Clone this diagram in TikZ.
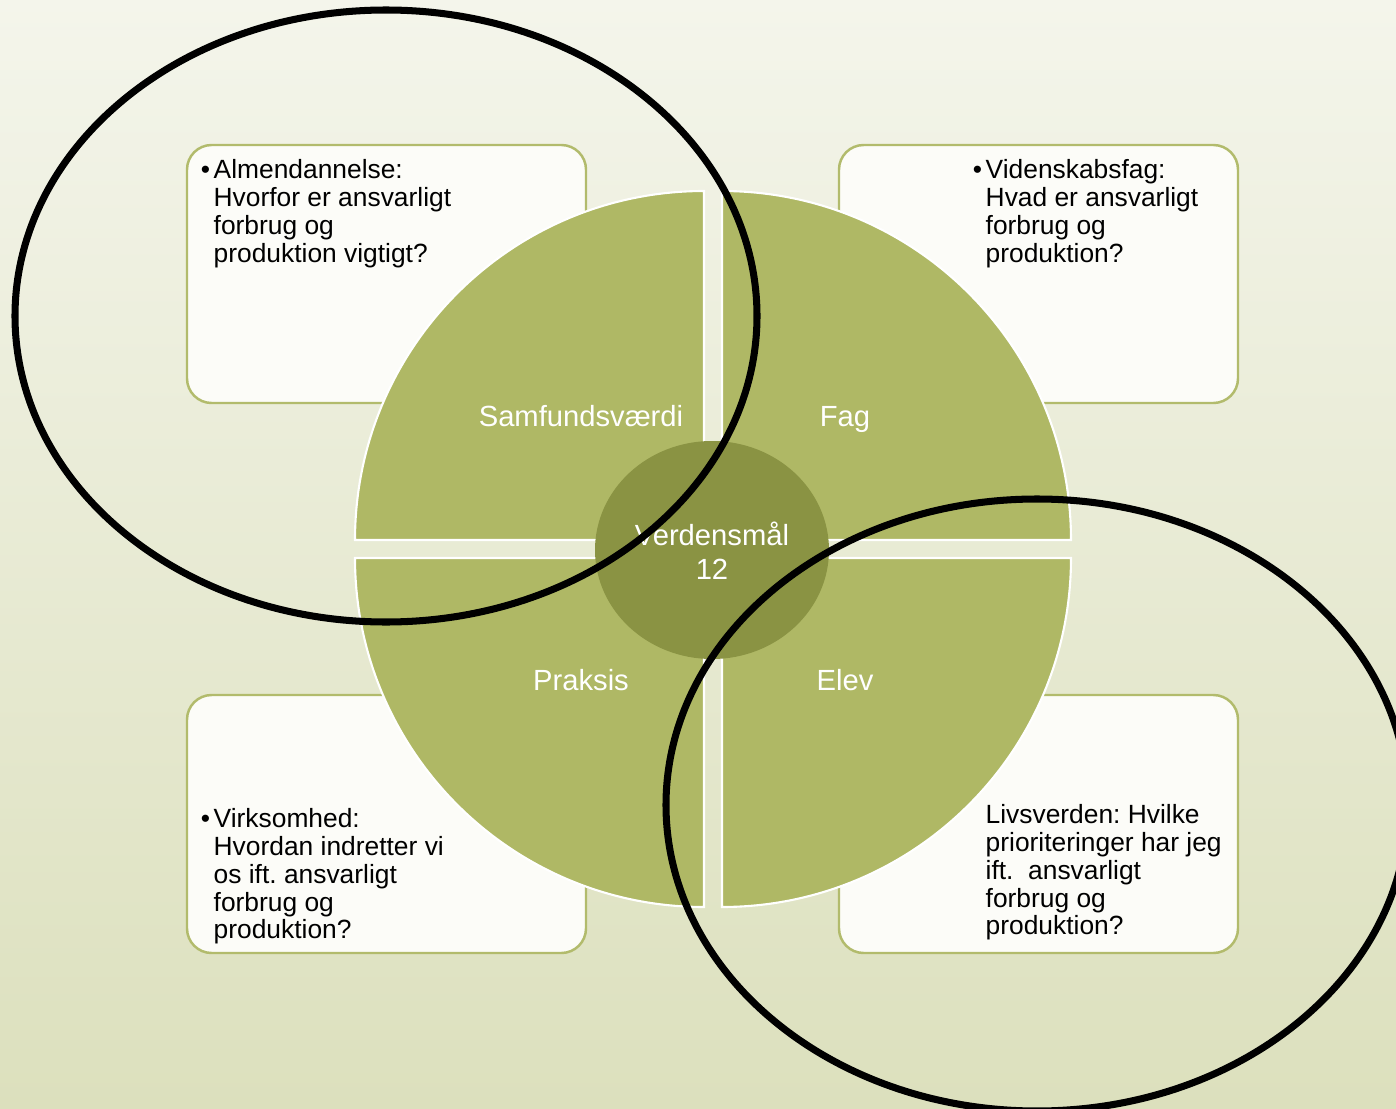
\documentclass[tikz,border=0pt]{standalone}
\usepackage{fontspec}
\setmainfont{Liberation Sans}
\frenchspacing

\definecolor{bgtop}{RGB}{244,245,235}
\definecolor{bgbottom}{RGB}{220,224,189}
\definecolor{cardline}{RGB}{178,187,108}
\definecolor{cardfill}{RGB}{252,252,248}
\definecolor{quarterfill}{RGB}{175,184,101}
\definecolor{hubfill}{RGB}{138,147,67}

\begin{document}
\begin{tikzpicture}[x=0.01cm, y=-0.01cm,
        card/.style={draw=cardline, fill=cardfill, line width=0.7pt, rounded corners=7pt},
        quarter/.style={fill=quarterfill, draw=white, line width=0.6pt},
        sector/.style={text=white, inner sep=0pt, align=center, font=\fontsize{8.3}{9.7}\selectfont},
        cardtext/.style={anchor=north west, align=left, inner sep=0pt, font=\fontsize{7.5}{7.9}\selectfont},
        ring/.style={draw=black, line width=2pt}]

        % Background
        \useasboundingbox (0,0) rectangle (1396,1109);
        \shade[top color=bgtop, bottom color=bgbottom] (0,0) rectangle (1396,1109);

        % Define the corners of the four quarters
        \coordinate (samf) at (704,540);
        \coordinate (fag) at (722,540);
        \coordinate (praks) at (704,558);
        \coordinate (elev) at (722,558);

        % Draw the four cards behind the circle
        \draw[card] (187,145) rectangle (586,403);
        \draw[card] (839,145) rectangle (1238,403);
        \draw[card] (187,695) rectangle (586,953);
        \draw[card] (839,695) rectangle (1238,953);

        \node[cardtext] (almen) at (213,159) {\llap{\textbullet\kern1pt}Almendannelse:\\Hvorfor er ansvarligt\\forbrug og\\produktion vigtigt?};
        \node[cardtext] (viden) at (985,159) {\llap{\textbullet\kern1pt}Videnskabsfag:\\Hvad er ansvarligt\\forbrug og\\produktion?};
        \node[cardtext] (virk) at (213,808) {\llap{\textbullet\kern1pt}Virksomhed:\\Hvordan indretter vi\\os ift. ansvarligt\\forbrug og\\produktion?};
        \node[cardtext] (livs) at (985,804) {Livsverden: Hvilke\\prioriteringer har jeg\\ift.\ \ ansvarligt\\forbrug og\\produktion?};

        % Draw the quarters
        \filldraw[quarter] (samf) -- ++(-349,0) arc[start angle=180, end angle=270, radius=349] -- cycle;
        \filldraw[quarter] (fag) -- ++(0,-349) arc[start angle=270, end angle=360, radius=349] -- cycle;
        \filldraw[quarter] (elev) -- ++(349,0) arc[start angle=0, end angle=90, radius=349] -- cycle;
        \filldraw[quarter] (praks) -- ++(0,349) arc[start angle=90, end angle=180, radius=349] -- cycle;

        \node[sector, anchor=base] (samflabel) at (581,426) {Samfundsværdi};
        \node[sector, anchor=base] (faglabel) at (845,426) {Fag};
        \node[sector, anchor=base] (prakslabel) at (581,690) {Praksis};
        \node[sector, anchor=base] (elevlabel) at (845,690) {Elev};

        % Draw the centre
        \fill[hubfill] (712,550) ellipse [x radius=117, y radius=109];
        \node[sector] (hub) at (712,551) {Verdensmål\\12};

        % Draw the two rings on top
        \draw[ring] (386,316) ellipse [x radius=371, y radius=306];
        \draw[ring] (1037,805) ellipse [x radius=371, y radius=306];

    \end{tikzpicture}
\end{document}
